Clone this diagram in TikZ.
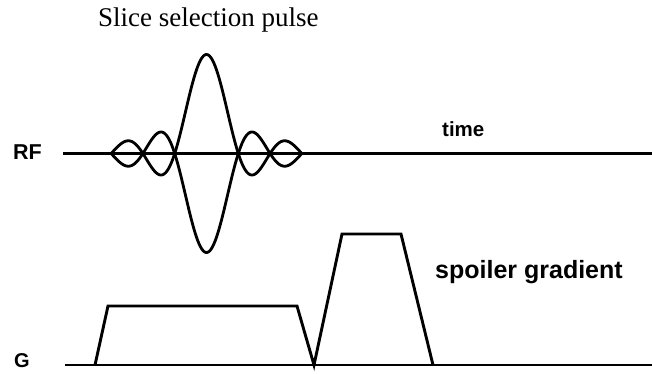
\documentclass[tikz,border=0pt]{standalone}
\usepackage{fontspec}
\setmainfont{Liberation Serif}
\newfontfamily\labelfont{Liberation Sans}
\begin{document}
\begin{tikzpicture}[x=1pt,y=-1pt,
  axisline/.style={line width=3.6pt},
  waveline/.style={line width=2.8pt, line join=round},
  gradline/.style={line width=2.9pt, line join=miter},
  lbl/.style={inner sep=0pt, anchor=base west},
]
\useasboundingbox (0,0) rectangle (652,373);

% time axes
\coordinate (rfstart) at (63,153.5);
\coordinate (rfend) at (652,153.5);
\coordinate (gstart) at (65,365);
\coordinate (gend) at (652,365);
\draw[axisline] (rfstart) -- (rfend);
\draw[gradline] (gstart) -- (gend);

% sinc-shaped RF pulse, drawn with its mirror image
\begin{scope}[shift={(206.5,153.5)}]
  \draw[waveline] plot[domain=-3:3, samples=241, smooth]
    (31.8*\x, {-99*sin(180*\x)/(pi*\x)});
  \draw[waveline] plot[domain=-3:3, samples=241, smooth]
    (31.8*\x, {99*sin(180*\x)/(pi*\x)});
\end{scope}

% slice-select gradient and spoiler gradient
\coordinate (s1a) at (95,365);
\coordinate (s1b) at (108,306);
\coordinate (s1c) at (297,306);
\coordinate (s1d) at (314,365);
\coordinate (s2b) at (342,234);
\coordinate (s2c) at (401,234);
\coordinate (s2d) at (433,365);
\draw[gradline] (s1a) -- (s1b) -- (s1c) -- (s1d) -- (s2b) -- (s2c) -- (s2d);

% labels
\node[lbl, font=\fontsize{27}{30}\selectfont] (title) at (98,26.7) {Slice selection pulse};
\node[lbl, font=\labelfont\bfseries\fontsize{21.5}{24}\selectfont] (rf) at (13,159.5) {RF};
\node[lbl, font=\labelfont\bfseries\fontsize{20.5}{24}\selectfont] (time) at (442,136) {time};
\node[lbl, font=\labelfont\bfseries\fontsize{20}{22}\selectfont] (g) at (14,367) {G};
\node[lbl, font=\labelfont\bfseries\fontsize{25}{28}\selectfont] (spoiler) at (435,278.3) {spoiler gradient};
\end{tikzpicture}
\end{document}
